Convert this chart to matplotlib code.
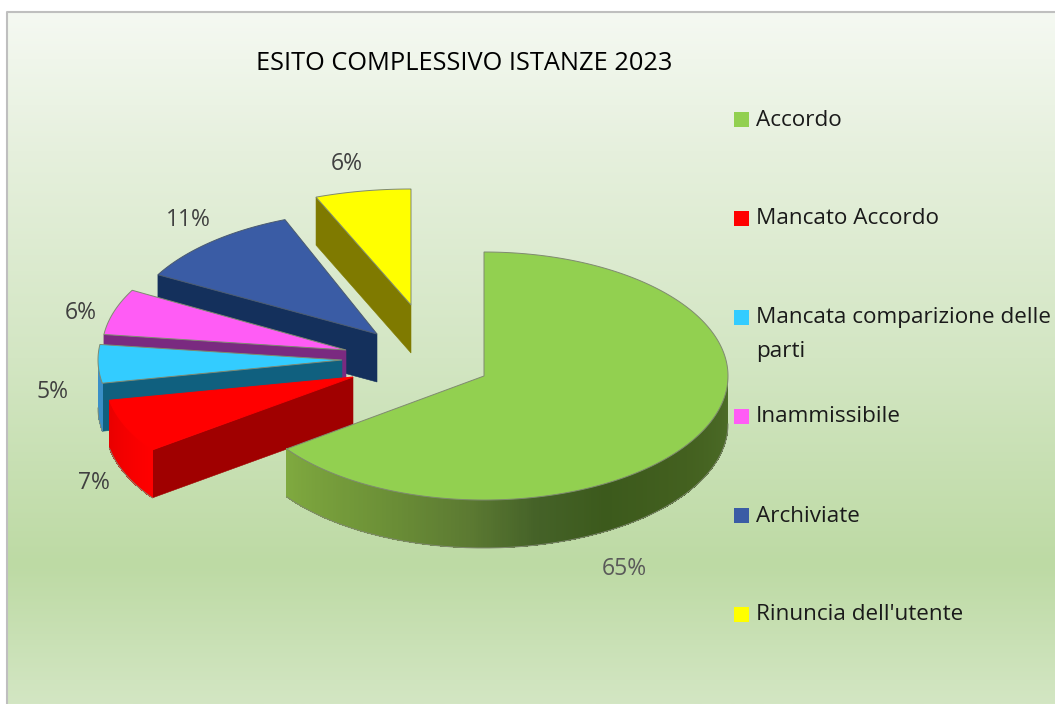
import numpy as np
import matplotlib
matplotlib.use("Agg")
import matplotlib.pyplot as plt
from matplotlib.colors import LinearSegmentedColormap
from matplotlib.patches import Polygon, Rectangle

plt.rcParams["font.family"] = ["Open Sans", "DejaVu Sans"]

# Chart data
title = "ESITO COMPLESSIVO ISTANZE 2023"
categories = ["Accordo", "Mancato Accordo", "Mancata comparizione delle\nparti",
              "Inammissibile", "Archiviate", "Rinuncia dell'utente"]
values = [65, 7, 5, 6, 11, 6]

# Slice styling
top_colors = ["#92d050", "#ff0000", "#33ccff", "#ff5cf5", "#3a5ca5", "#ffff00"]
edge_colors = ["#7f8a70", "#ff0000", "#7f8a70", "#7f8a70", "#4a5a70", "#7f8a70"]
cut_colors = ["#5c7a30", "#a00000", "#10607f", "#7a2a80", "#14305c", "#7f7a00"]
wall_stops = [
    [(0, "#7fa93f"), (.18, "#6f9438"), (.35, "#5c7a32"), (.46, "#456228"),
     (.58, "#3c5a1c"), (.76, "#43601f"), (1, "#4d6d28")],
    [(0, "#e80000"), (1, "#ff0000")],
    [(0, "#3a8fc8"), (1, "#3a8fc8")],
    [(0, "#7a2a80"), (1, "#7a2a80")],
    [(0, "#14305c"), (1, "#14305c")],
    [(0, "#7f7a00"), (1, "#7f7a00")],
]

# Layout in pixels of the 1055x704 canvas
apex_x = [484, 353, 342, 346, 377, 411]
apex_y = [376, 377, 360, 350, 334, 305]
radius_x = [244, 248, 244, 244, 250, 258]
radius_y = [124, 124, 124, 124, 123, 116]
depth = 48
label_x = [624, 94, 53, 81, 188, 347]
label_y = [569, 483, 392, 313, 220, 164]
label_colors = ["#595959", "#404040", "#404040", "#404040", "#404040", "#404040"]
legend_top = 119.5
legend_step = 99

fig = plt.figure(figsize=(10.55, 7.04), dpi=100)
ax = fig.add_axes([0, 0, 1, 1])

# Chart area: vertical gradient inside a thin grey frame
bg = LinearSegmentedColormap.from_list("bg", [
    (0, "#f5f9f2"), (.2, "#e6f0dd"), (.5, "#d3e6c3"), (.8, "#bddaa4"), (1, "#d3e6c3")])
ax.imshow(np.linspace(0, 1, 256).reshape(-1, 1), cmap=bg, aspect="auto",
          extent=(7, 1055, 704, 12), zorder=0)
ax.plot([7, 7, 1055], [704, 12, 12], color="#bfbfbf", lw=1.5, zorder=1)


def rim(i, deg, drop=0):
    rad = np.radians(deg)
    return (apex_x[i] + radius_x[i] * np.cos(rad),
            apex_y[i] - radius_y[i] * np.sin(rad) + drop)


def draw_slice(i, low, high, z):
    # low and high are angles in degrees, low is the clockwise end of the slice
    cx, cy = apex_x[i], apex_y[i]

    # Cut face under the straight edge at low; the big slice does not show one
    if i == 0:
        xl, yl = rim(i, low)
        ax.plot([xl, xl], [yl, yl + depth], color="#808a70", lw=0.7, zorder=z)
    else:
        ox, oy = rim(i, high)
        cut = [(cx, cy), (ox, oy), (ox, oy + depth), (cx, cy + depth)]
        ax.add_patch(Polygon(cut, fc=cut_colors[i], ec=cut_colors[i], lw=0.4, zorder=z))

    # Outer wall, only the part between 180 and 360 degrees faces the viewer
    wall_from, wall_to = max(low, 180), min(high, 360)
    if wall_to > wall_from:
        shade = LinearSegmentedColormap.from_list("wall", wall_stops[i])
        steps = np.linspace(wall_from, wall_to, int(wall_to - wall_from) * 2 + 2)
        for a, b in zip(steps[:-1], steps[1:]):
            frac = ((a + b) / 2 - wall_from) / (wall_to - wall_from)
            # each strip overlaps the next so no seams show
            xa, ya = rim(i, a)
            xb, yb = rim(i, min(b + 1, wall_to))
            quad = [(xa, ya), (xb, yb), (xb, yb + depth), (xa, ya + depth)]
            ax.add_patch(Polygon(quad, fc=shade(frac), ec="none", lw=0,
                                 antialiased=False, zorder=z))
        arc = np.linspace(wall_from, wall_to, 160)
        ax.plot(*rim(i, arc, depth), color="#808a70", lw=0.7, zorder=z)

    xs, ys = rim(i, np.linspace(low, high, 400))
    top = [(cx, cy)] + list(zip(xs, ys))
    ax.add_patch(Polygon(top, fc=top_colors[i], ec=edge_colors[i], lw=0.7, zorder=z + 0.1))


# Angles from the values, back slices first
sweep = 360 * np.array(values) / sum(values)
ends = (90 - np.cumsum(sweep)) % 360
for z, i in enumerate(reversed(range(len(values)))):
    draw_slice(i, ends[i], ends[i] + sweep[i], 2 + z)

# Data labels
for val, x, y, col in zip(values, label_x, label_y, label_colors):
    ax.text(x, y, f"{val}%", ha="center", va="center", fontsize=16.5, color=col, zorder=20)

# Title and legend
ax.text(464, 63, title, ha="center", va="center", fontsize=18.3, color="black", zorder=20)
for i, (name, col) in enumerate(zip(categories, top_colors)):
    yc = legend_top + i * legend_step
    ax.add_patch(Rectangle((734, yc - 7.5), 15, 15, fc=col, ec="none", zorder=20))
    lines = name.split("\n")
    ax.text(756, yc + 0.5, lines[0], ha="left", va="center", fontsize=16.2,
            color="#1a1a1a", zorder=20)
    if len(lines) > 1:
        ax.text(756, yc + 34, lines[1], ha="left", va="center", fontsize=16.2,
                color="#1a1a1a", zorder=20)

ax.set_xlim(0, 1055)
ax.set_ylim(704, 0)
ax.axis("off")
fig.savefig("out.png", dpi=100, facecolor="white")
